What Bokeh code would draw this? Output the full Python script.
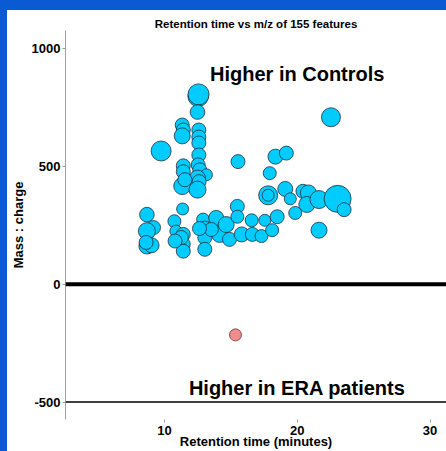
from bokeh.plotting import figure
from bokeh.models import Span, Range1d, FixedTicker, ColumnDataSource
from bokeh.layouts import column
from bokeh.embed import file_html
from bokeh.resources import INLINE
from bokeh.core.properties import value

# ---- data: features higher in controls ----
ctrl_rt = [12.54, 12.57, 12.49, 11.34, 11.42, 11.34, 12.59, 12.59, 9.75, 12.59,
           12.59, 12.54, 12.66, 11.42, 11.42, 11.34, 13.16, 12.49, 12.61, 12.49,
           11.54, 8.68, 9.18, 8.68, 8.68, 9.03, 8.62, 11.37, 10.75, 10.86,
           11.42, 11.17, 11.42, 11.42, 11.27, 12.91, 13.04, 13.04, 13.04, 13.90,
           14.16, 13.53, 14.65, 14.90, 15.49, 15.49, 15.82, 16.57, 16.62, 17.56,
           17.31, 18.11, 18.49, 15.54, 22.54, 18.36, 19.18, 17.93, 17.81, 17.81,
           19.10, 19.48, 20.43, 20.84, 20.72, 21.64, 23.04, 23.53, 19.85, 21.64,
           12.64, 10.80]
ctrl_mz = [797, 805, 730, 675, 654, 629, 654, 624, 565, 599,
           548, 506, 485, 502, 477, 416, 464, 450, 435, 401,
           443, 295, 240, 225, 162, 165, 177, 319, 267, 225,
           211, 183, 169, 140, 198, 274, 240, 197, 148, 281,
           211, 232, 253, 190, 330, 286, 211, 271, 211, 271,
           204, 229, 286, 520, 708, 541, 556, 471, 377, 377,
           404, 362, 394, 387, 338, 359, 362, 316, 302, 229,
           236, 183]
ctrl_effect = [10.3, 10.5, 7.3, 7, 7, 8, 7, 7, 10, 7,
               7, 7, 7, 7, 7, 8.5, 6, 8, 7, 8.5,
               7, 7.3, 7, 8.5, 8, 7.5, 7, 6, 6.5, 6,
               7, 7, 7, 7, 7, 6.5, 6.5, 7, 7, 7.5,
               8, 7, 8, 7, 7, 6.5, 7.5, 6.5, 7, 6,
               6.5, 6.5, 7, 7, 9.5, 7.5, 7, 6.5, 9.5, 6,
               7.5, 6, 7, 8, 8, 9, 13.5, 7, 6.5, 8,
               7, 7]

# ---- data: features higher in ERA patients ----
era_rt = [15.35]
era_mz = [-215]
era_effect = [6]

y_ticks = [-500, 0, 500, 1000]
x_ticks = [10, 20, 30]

FONT = "Liberation Sans"

p = figure(width=439, height=441, output_backend="svg", toolbar_location=None,
           x_range=Range1d(2.55, 31.24), y_range=Range1d(-574, 1076),
           min_border_left=54, min_border_right=0, min_border_top=20,
           min_border_bottom=30, margin=(10, 0, 0, 7),
           styles={"background-color": "white"},
           title="Retention time vs m/z of 155 features")
p.title.text_font = FONT
p.title.text_font_size = "11.5px"
p.title.text_font_style = "bold"
p.title.text_color = "black"
p.title.align = "center"
p.title.standoff = 2
p.xgrid.visible = False
p.ygrid.visible = False
p.outline_line_color = None
p.background_fill_color = "white"
p.border_fill_color = "white"

for ax in (p.xaxis[0], p.yaxis[0]):
    ax.major_label_text_font = FONT
    ax.major_label_text_font_style = "bold"
    ax.major_label_text_font_size = "13px"
    ax.major_label_text_color = "black"
    ax.axis_label_text_font = FONT
    ax.axis_label_text_font_style = "bold"
    ax.axis_label_text_font_size = "13px"
    ax.axis_label_text_color = "black"
    ax.major_tick_line_color = "#9a9a9a"
    ax.major_tick_in = 0
    ax.major_tick_out = 3
    ax.minor_tick_line_color = None

p.yaxis.ticker = FixedTicker(ticks=y_ticks)
p.yaxis.major_label_overrides = {-500: "-500"}
p.yaxis.axis_line_color = "#a0a0a0"
p.yaxis.axis_label = "Mass : charge"
p.yaxis.major_label_standoff = 2
p.yaxis.axis_label_standoff = 3

p.xaxis.ticker = FixedTicker(ticks=x_ticks)
p.xaxis.axis_line_color = None
p.xaxis.axis_label = "Retention time (minutes)"
p.xaxis.major_label_standoff = 3
p.xaxis.axis_label_standoff = -4

p.add_layout(Span(location=0, dimension="width", line_color="black", line_width=4))
p.add_layout(Span(location=-500, dimension="width", line_color="black", line_width=1.5))

ctrl = ColumnDataSource(dict(x=ctrl_rt, y=ctrl_mz, s=[2 * e for e in ctrl_effect]))
era = ColumnDataSource(dict(x=era_rt, y=era_mz, s=[2 * e for e in era_effect]))

p.scatter("x", "y", size="s", source=ctrl, fill_color="#00CCFF",
          line_color="#1f2f3a", line_width=0.8)
p.scatter("x", "y", size="s", source=era, fill_color="#F28B8B",
          line_color="#5a3a3a", line_width=0.8)

p.text(x=[20], y=[893], text=["Higher in Controls"], text_font=value(FONT),
       text_font_style="bold", text_font_size="20px", text_align="center",
       text_baseline="alphabetic", text_color="black")
p.text(x=[20], y=[-440], text=["Higher in ERA patients"], text_font=value(FONT),
       text_font_style="bold", text_font_size="20px", text_align="center",
       text_baseline="alphabetic", text_color="black")

layout = column(p, styles={"background-color": "#0A5BD3"})

open("out.html", "w").write(file_html(layout, INLINE))
